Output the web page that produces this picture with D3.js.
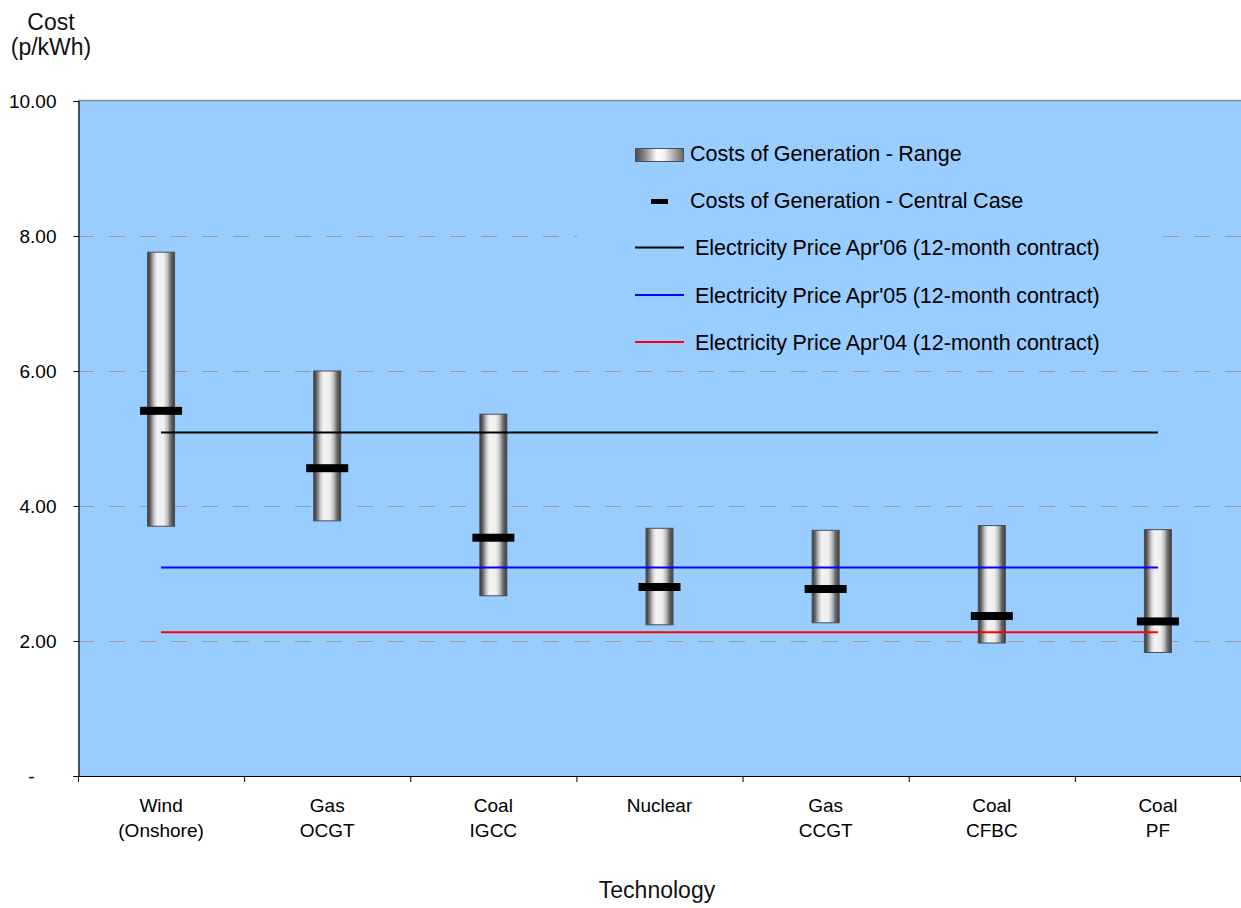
<!DOCTYPE html>
<html>
<head>
<meta charset="utf-8">
<script src="https://cdn.jsdelivr.net/npm/d3@7/dist/d3.min.js"></script>
<style>
  html, body { margin: 0; padding: 0; background: #fff; }
  svg { display: block; font-family: "Liberation Sans", Arial, Helvetica, sans-serif; }
</style>
</head>
<body>
<svg id="chart" width="1241" height="908"></svg>
<script>
// Technologies and their generation cost ranges (p/kWh)
const categories = [["Wind", "(Onshore)"], ["Gas", "OCGT"], ["Coal", "IGCC"], ["Nuclear"], ["Gas", "CCGT"], ["Coal", "CFBC"], ["Coal", "PF"]];
const rangeLow   = [3.70, 3.78, 2.67, 2.24, 2.27, 1.97, 1.83];
const rangeHigh  = [7.76, 6.00, 5.36, 3.67, 3.64, 3.71, 3.65];
const centralCase = [5.41, 4.56, 3.53, 2.80, 2.77, 2.37, 2.29];

// Wholesale electricity prices (12-month contracts)
const priceLabels = ["Electricity Price Apr'06 (12-month contract)", "Electricity Price Apr'05 (12-month contract)", "Electricity Price Apr'04 (12-month contract)"];
const priceValues = [5.09, 3.09, 2.13];
const priceColors = ["#000000", "#0000ff", "#ff0000"];

const yTicks = [0, 2, 4, 6, 8, 10];
const seriesLabels = ["Costs of Generation - Range", "Costs of Generation - Central Case"];

const svg = d3.select("#chart");
const plotLeft = 78, plotRight = 1241, plotTop = 101, plotBottom = 776;
const keys = categories.map(c => c.join(" "));

const x = d3.scaleBand().domain(keys).range([plotLeft, plotRight]).padding(0);
const y = d3.scaleLinear().domain([0, 10]).range([plotBottom, plotTop]);
const cx = k => x(k) + x.bandwidth() / 2;

// gradients for the cylinder-style bars
const defs = svg.append("defs");
const barGrad = defs.append("linearGradient").attr("id", "barGrad").attr("x1", 0).attr("x2", 1).attr("y1", 0).attr("y2", 0);
[[0, "#3a3a3a"], [0.08, "#555"], [0.16, "#8c8c8c"], [0.26, "#d0d0d0"], [0.36, "#f3f3f3"], [0.6, "#eeeeee"], [0.74, "#bdbdbd"], [0.86, "#6c6c6c"], [1, "#3a3a3a"]]
  .forEach(([o, c]) => barGrad.append("stop").attr("offset", o).attr("stop-color", c));
const legGrad = defs.append("linearGradient").attr("id", "legGrad").attr("x1", 0).attr("x2", 1).attr("y1", 0).attr("y2", 0);
[[0, "#4a4a4a"], [0.2, "#8a8a8a"], [0.45, "#ffffff"], [0.6, "#f2f2f2"], [0.85, "#999"], [1, "#666"]]
  .forEach(([o, c]) => legGrad.append("stop").attr("offset", o).attr("stop-color", c));

// plot background
svg.append("rect").attr("x", plotLeft).attr("y", plotTop).attr("width", plotRight - plotLeft).attr("height", plotBottom - plotTop).attr("fill", "#99ccff");

// dashed gridlines
svg.append("g").selectAll("line").data(yTicks.filter(d => d > 0 && d < 10)).join("line")
  .attr("x1", plotLeft).attr("x2", plotRight)
  .attr("y1", d => y(d) + 0.5).attr("y2", d => y(d) + 0.5)
  .attr("stroke", "#9a9a96").attr("stroke-width", 1.2).attr("stroke-dasharray", "16,15");

// legend backdrop
const lg = svg.append("g");
lg.append("rect").attr("x", 577).attr("y", 128).attr("width", 576).attr("height", 234).attr("fill", "#99ccff");

// cost ranges
const barW = 27;
svg.append("g").selectAll("rect").data(keys).join("rect")
  .attr("x", d => cx(d) - barW / 2)
  .attr("y", (d, i) => y(rangeHigh[i]))
  .attr("width", barW)
  .attr("height", (d, i) => y(rangeLow[i]) - y(rangeHigh[i]))
  .attr("fill", "url(#barGrad)")
  .attr("stroke", "#4a4f57").attr("stroke-width", 1);

// electricity price lines, spanning first to last technology
svg.append("g").selectAll("line").data(priceValues).join("line")
  .attr("x1", cx(keys[0])).attr("x2", cx(keys[keys.length - 1]))
  .attr("y1", d => y(d)).attr("y2", d => y(d))
  .attr("stroke", (d, i) => priceColors[i]).attr("stroke-width", 2);

// central case markers
const mW = 42, mH = 8;
svg.append("g").selectAll("rect").data(keys).join("rect")
  .attr("x", d => cx(d) - mW / 2)
  .attr("y", (d, i) => y(centralCase[i]) - mH / 2)
  .attr("width", mW).attr("height", mH).attr("fill", "#000");

// top border
svg.append("line").attr("x1", plotLeft).attr("x2", plotRight).attr("y1", plotTop - 0.5).attr("y2", plotTop - 0.5)
  .attr("stroke", "#8c8c8c").attr("stroke-width", 1.5);

// y axis
const yAxis = svg.append("g").attr("transform", `translate(${plotLeft + 0.5},0)`)
  .call(d3.axisLeft(y).tickValues(yTicks).tickSize(5).tickPadding(17)
    .tickFormat(d => d === 0 ? "-" : d3.format(".2f")(d)));
yAxis.select(".domain").attr("stroke", "#000").attr("stroke-width", 1.2);
yAxis.selectAll(".tick line").attr("stroke", "#000");
yAxis.selectAll(".tick text").attr("font-size", 19).attr("fill", "#000").attr("font-family", null)
  .attr("x", d => d === 0 ? -44 : -22);

// x axis: ticks on category boundaries, labels centred
const xg = svg.append("g");
xg.append("line").attr("x1", plotLeft).attr("x2", plotRight).attr("y1", plotBottom + 0.5).attr("y2", plotBottom + 0.5)
  .attr("stroke", "#000").attr("stroke-width", 1.2);
const bounds = keys.map(k => x(k)).concat([plotRight - 0.5]);
xg.selectAll("line.tick").data(bounds).join("line").attr("class", "tick")
  .attr("x1", d => d + 0.5).attr("x2", d => d + 0.5)
  .attr("y1", plotBottom).attr("y2", plotBottom + 6).attr("stroke", "#000");
const xl = xg.selectAll("text").data(categories).join("text")
  .attr("text-anchor", "middle").attr("font-size", 19).attr("fill", "#000")
  .attr("x", (d, i) => cx(keys[i])).attr("y", 812);
xl.selectAll("tspan").data(d => d).join("tspan")
  .attr("x", function () { return d3.select(this.parentNode).attr("x"); })
  .attr("dy", (d, i) => i === 0 ? 0 : 25).text(d => d);

// axis titles
svg.append("text").attr("x", 51).attr("y", 30).attr("text-anchor", "middle").attr("font-size", 23).attr("fill", "#111").text("Cost");
svg.append("text").attr("x", 51).attr("y", 55).attr("text-anchor", "middle").attr("font-size", 23).attr("fill", "#111").text("(p/kWh)");
svg.append("text").attr("x", 657).attr("y", 898).attr("text-anchor", "middle").attr("font-size", 23).attr("fill", "#111").text("Technology");

// legend entries
const rowY = [153, 200, 247.5, 295, 342];
lg.append("rect").attr("x", 635.5).attr("y", 148.5).attr("width", 48).attr("height", 13)
  .attr("fill", "url(#legGrad)").attr("stroke", "#4a4f57");
lg.append("rect").attr("x", 651).attr("y", 199).attr("width", 17).attr("height", 5).attr("fill", "#000");
priceColors.forEach((c, i) => {
  lg.append("line").attr("x1", 635).attr("x2", 684).attr("y1", rowY[i + 2]).attr("y2", rowY[i + 2])
    .attr("stroke", c).attr("stroke-width", 2);
});
const legendTexts = seriesLabels.concat(priceLabels);
lg.selectAll("text").data(legendTexts).join("text")
  .attr("x", (d, i) => i < 2 ? 690 : 695)
  .attr("y", (d, i) => rowY[i]).attr("dy", "0.36em")
  .attr("font-size", 21.5).attr("fill", "#000").attr("word-spacing", -0.5)
  .text(d => d);
</script>
</body>
</html>
